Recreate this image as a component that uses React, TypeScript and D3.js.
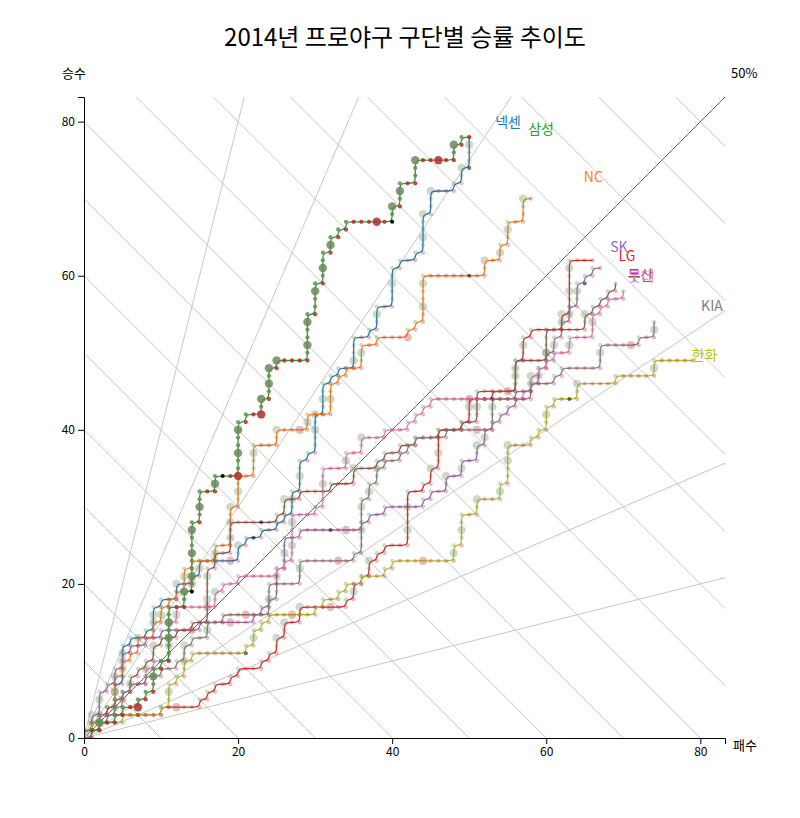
import * as d3 from "d3"
import { useEffect, useRef } from "react"

const FONT = "'Noto Sans CJK KR', 'Noto Sans', sans-serif"
const LEFT = 84
const RIGHT = 725
const TOP = 97
const BOTTOM = 738
const MAX = 83.2

const teams = ["넥센", "NC", "LG", "SK", "두산", "롯데", "KIA", "한화", "삼성"]
const colors = ["#1f77b4", "#ff7f0e", "#d62728", "#9467bd", "#8c564b", "#e377c2", "#7f7f7f", "#bcbd22", "#2ca02c"]

// one letter per game: w/l = won/lost by 1-2 runs, W/L = by 3 or more, d = tie (moves along the loss axis)
const results = [
    "w l w l w l w l wWw l wwWww l w ll w l wWw l w ll wW lL w l Ww lllLl wW l w d l w ll w l w l wWw l wWww l w l wwWwW l wWww l w l w ll Wwww ll w l wWw ll wwWww l w ll w l wWwwW l wwW lll w l wW d wwWw",
    "w l w l w l w l wWww l Ww l w l wW ll wW l Ww l w l w l wWw l w lll Ww ll wwWwW l wWww ll wwWw lll wW llLl Ww lll wWww l w l w ll wWw ll w lllL w l w l wWwwWw lllll d ll wW ll Ww l wWw ll wwW l",
    "l w l Ww lllldlll w lLlll w l w l w ll w l w lll w l w l wW l wW ll wW lllLll w l Ww l w l wW l w l w lll wWwwWww ll w l wW l wWwww lll w l wWw ldl w lll wWww l wWw l w llll wW l wwWwwWw lll",
    "w l wW l wWw l w l Ww l wW l w ll w ll w lllLl w lllLlll w l w l w l wwWw l wWww ll w llldlLll w l w ll w lllll w l w ll wW ll Ww ll wW l Ww l w l w l w l w ll wW l Ww l wW l Ww l wW l Ww l wWw d w l w l",
    "l wW l w l w l w l w l Ww l w l w l wW l w ll w ll w ll wwWwwWw l Ww ll wWww llldll w l wW ll w llll w lll wW lll w l w ll w ll w lll w lll w ll wWww lllLl wwWw llll Wwww lllll wW l w l w l w l w",
    "w ll wW ll w l Ww l w ll wW l w ll wWwwW l Ww lllLl wW l w ll w lllll w l w l wWwwWw lll w l wwWww lll Ww ll wW lll w lll w l w l w l w llllLlldllll w l wW l w l w l w ll Ww lll wWw l w l w ll w",
    "l w l w l w l Ww l w l w ll w ll w ll w l wW l w ll Ww ll w llLlll wWww llll wWw llllLll w l wwWwwWw l Ww l wW l w ll w l w l w llll w lllLll wwWw lll w ll w lll w l w lllll wWw lllLl w ll Ww",
    "w l w llll w lllll w l wWw l w l wW l w llllll d w l Ww l w l w llLlll w l w ll w l w ll w lll w l w lllLllll Ww l wWww ll wW lll Ww l wwWwW lll w l w l wWw l w l d l wW lllll w lllll Ww lllll",
    "w ll W ll w l w lL w l w l wWw l w l wwWwWww ll wW d wWwwWwwWw l wWww ll Ww d lL wwWwwWw l w lL wW l wWwW l W llll wWwwWw l wwWw l wWww l Ww l w l w lllLl d wW l wWw ll wwW llLll wW l w l",
]

// label position, in pixels from the last point of each team
const labelDx = [26, 53, 26, 10, 12, 5, 47, -1, 59]
const labelDy = [-10, -17, 1, -16, -3, -10, -11, 0, -3]

const highlighted = "삼성"
const winRates = [0.2, 0.3, 0.4, 0.5, 0.6, 0.7, 0.8]
const gameTotals = [10, 20, 30, 40, 50, 60, 70, 80, 90, 100, 110, 120, 130, 140, 150, 160]
const tickValues = [0, 20, 40, 60, 80]

const x = d3.scaleLinear().domain([0, MAX]).range([LEFT, RIGHT])
const y = d3.scaleLinear().domain([0, MAX]).range([BOTTOM, TOP])
const radius = d3.scaleSqrt().domain([0, 6]).range([0, 4.6])

type Game = { l: number; w: number; kind: string; margin: number }

const toGames = (s: string): Game[] => {
    let l = 0
    let w = 0
    const games: Game[] = [{ l: 0, w: 0, kind: "s", margin: 0 }]
    for (const c of s.replace(/\s/g, "")) {
        if (c === "w" || c === "W") w += 1
        else l += 1
        const kind = c.toLowerCase()
        const margin = kind === "d" ? 1.2 : c === c.toUpperCase() ? 5 : 1.3
        games.push({ l, w, kind, margin })
    }
    return games
}

const line = d3.line<Game>().x((d) => x(d.l)).y((d) => y(d.w)).curve(d3.curveBasis)

const fillOf = (kind: string) => (kind === "w" ? "#6b8a5a" : kind === "l" ? "#b42a2a" : "#000")

export default function App() {
    const xAxisRef = useRef<SVGGElement>(null)
    const yAxisRef = useRef<SVGGElement>(null)

    useEffect(() => {
        const gx = d3.select(xAxisRef.current!)
        gx.call(d3.axisBottom(x).tickValues(tickValues))
        const gy = d3.select(yAxisRef.current!)
        gy.call(d3.axisLeft(y).tickValues(tickValues))
        for (const g of [gx, gy]) {
            g.selectAll("text").attr("font-size", 12).attr("font-family", FONT).attr("fill", "#000")
            g.selectAll("path, line").attr("stroke", "#000")
        }
    }, [])

    const allGames = results.map(toGames)

    return (
        <svg width={800} height={818} style={{ position: "absolute", left: 0, top: 0, fontFamily: FONT }}>
            <defs>
                <clipPath id="plot">
                    <rect x={LEFT} y={TOP} width={RIGHT - LEFT} height={BOTTOM - TOP} />
                </clipPath>
            </defs>
            <text x={405} y={46} textAnchor="middle" fontSize={24}>2014년 프로야구 구단별 승률 추이도</text>
            <text x={62} y={78} fontSize={13}>승수</text>
            <text x={731} y={78} fontSize={13}>50%</text>
            <text x={733} y={750} fontSize={13}>패수</text>

            <g clipPath="url(#plot)">
                {gameTotals.map((g) => (
                    <line key={g} x1={x(0)} y1={y(g)} x2={x(g)} y2={y(0)} stroke="#c6c6c6" strokeWidth={1} />
                ))}
                {winRates.map((r) => (
                    <line key={r} x1={x(0)} y1={y(0)} x2={x(200)} y2={y((200 * r) / (1 - r))}
                        stroke={r === 0.5 ? "#666" : "#c6c6c6"} strokeWidth={1} />
                ))}
                {allGames.map((games, i) => {
                    const op = teams[i] === highlighted ? 0.85 : 0.32
                    return (
                        <g key={teams[i]}>
                            <path d={line(games) ?? ""} fill="none" stroke={colors[i]} strokeWidth={1.3} />
                            {games.slice(1).map((g, j) => (
                                <circle key={j} cx={x(g.l)} cy={y(g.w)} r={radius(g.margin)}
                                    fill={fillOf(g.kind)} fillOpacity={g.kind === "d" ? (op > 0.5 ? 0.95 : 0.55) : op} />
                            ))}
                        </g>
                    )
                })}
            </g>

            <g ref={xAxisRef} transform={`translate(0,${BOTTOM})`} />
            <g ref={yAxisRef} transform={`translate(${LEFT},0)`} />

            {allGames.map((games, i) => {
                const last = games[games.length - 1]
                return (
                    <text key={teams[i]} x={x(last.l) + labelDx[i]} y={y(last.w) + labelDy[i]}
                        fill={colors[i]} fontSize={14}>{teams[i]}</text>
                )
            })}
        </svg>
    )
}
